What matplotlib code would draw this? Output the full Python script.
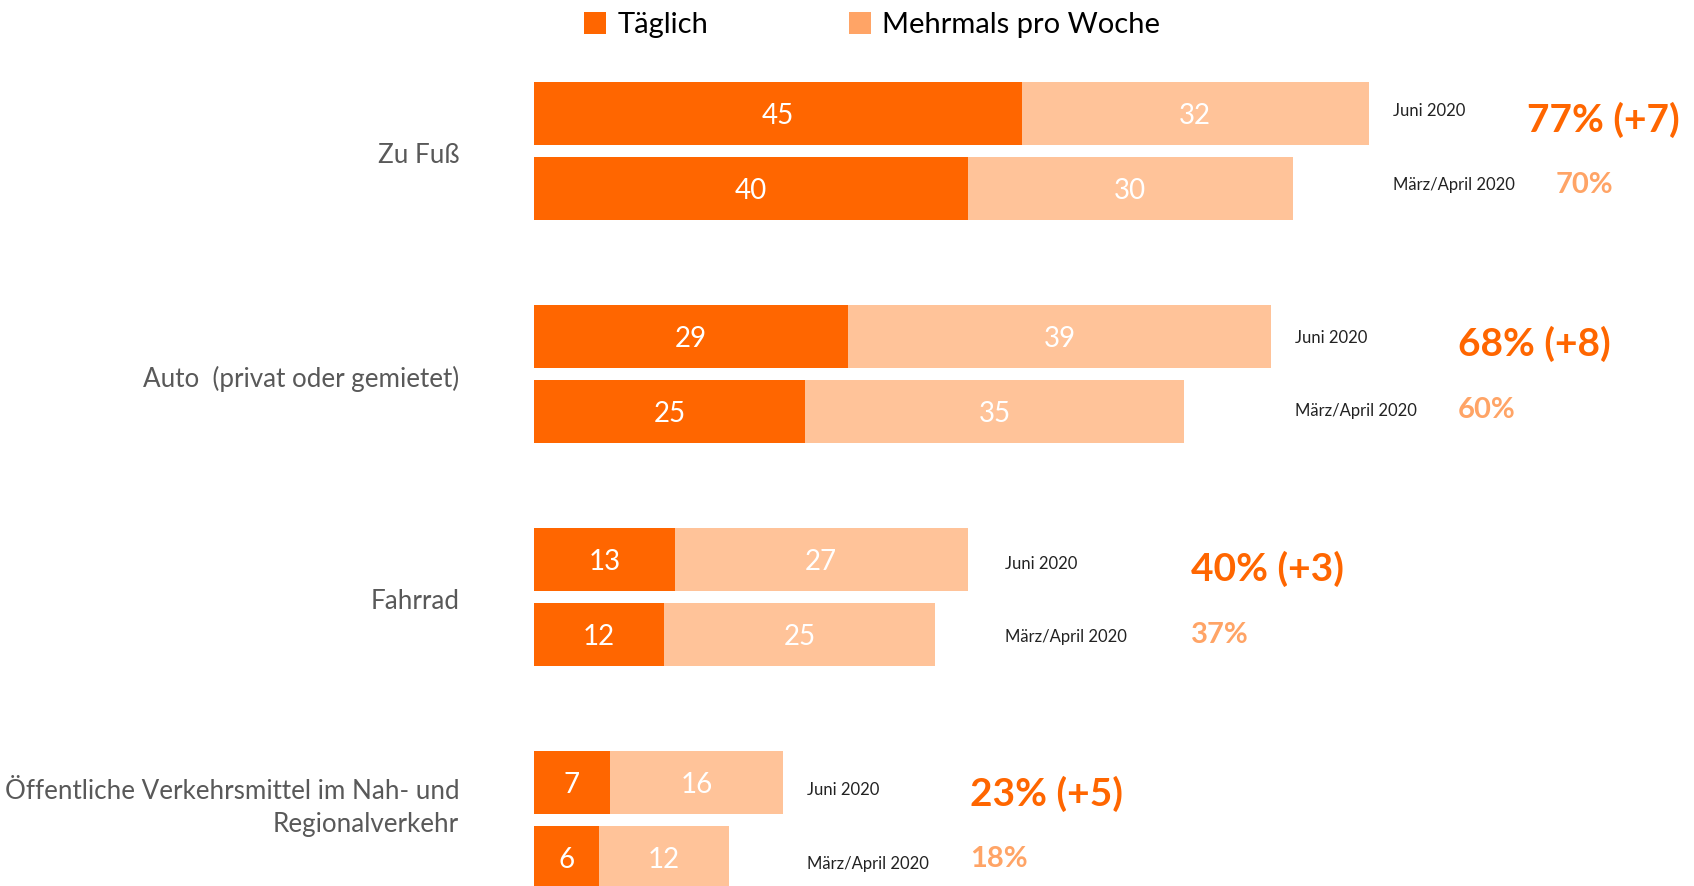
import matplotlib.pyplot as plt
from matplotlib.patches import Patch

plt.rcParams['font.family'] = ['Lato', 'DejaVu Sans']

categories = ['Zu Fuß', 'Auto  (privat oder gemietet)', 'Fahrrad',
              'Öffentliche Verkehrsmittel im Nah- und\nRegionalverkehr']
periods = ['Juni 2020', 'März/April 2020']
taeglich_juni = [45, 29, 13, 7]
mehrmals_juni = [32, 39, 27, 16]
taeglich_maerz = [40, 25, 12, 6]
mehrmals_maerz = [30, 35, 25, 12]
aenderung = ['+7', '+8', '+3', '+5']

DARK = '#FF6600'
LIGHT = '#FFC399'
LIGHT_TXT = '#FFA466'
GREY = '#595959'

fig = plt.figure(figsize=(16.94, 8.86), dpi=100)
ax = fig.add_axes([0, 0, 1, 1])
ax.set_xlim(-49.26, 107.0)
ax.set_ylim(10.3, -1.513)
ax.axis('off')

step = 2.973
h = 0.84
# extra spacing of the side labels per group
label_shift = [0, 0, 1.2, 0]
pct_shift = [0, 0, 2.2, 0]
for i, cat in enumerate(categories):
    y0 = i * step
    rows = [(y0, taeglich_juni[i], mehrmals_juni[i]),
            (y0 + 1, taeglich_maerz[i], mehrmals_maerz[i])]
    for y, t, m in rows:
        ax.barh(y, t, height=h, color=DARK)
        ax.barh(y, m, left=t, height=h, color=LIGHT)
        ax.text(t / 2, y + 0.04, str(t), color='white', fontsize=20, ha='center', va='center')
        ax.text(t + m / 2, y + 0.04, str(m), color='white', fontsize=20, ha='center', va='center')

    # category label, right aligned next to the bars
    ax.text(-6.9, y0 + 0.56 - (0.22 if '\n' in cat else 0), cat, color=GREY, fontsize=18.7,
            ha='right', va='center', linespacing=1.4)

    tot_j = taeglich_juni[i] + mehrmals_juni[i]
    tot_m = taeglich_maerz[i] + mehrmals_maerz[i]
    lx = tot_j + 2.2 + label_shift[i]
    drift = 0.045 * i
    ax.text(lx, y0 - 0.03 + drift, periods[0], fontsize=12, color='#222222', va='center')
    ax.text(lx, y0 + 0.95 + drift, periods[1], fontsize=12, color='#222222', va='center')
    px = lx + 15.0 + pct_shift[i]
    ax.text(min(px, 91.6), y0 + 0.08 + drift / 2, f'{tot_j}% ({aenderung[i]})', fontsize=28,
            fontweight='bold', color=DARK, va='center')
    ax.text(px, y0 + 0.96 + drift / 2, f'{tot_m}%', fontsize=21, fontweight='bold',
            color=LIGHT_TXT, va='center')

handles = [Patch(facecolor=DARK, label='Täglich'),
           Patch(facecolor=LIGHT_TXT, label='Mehrmals pro Woche')]
fig.legend(handles=handles, loc='upper center', bbox_to_anchor=(0.515, 1.016), ncol=2,
           frameon=False, fontsize=21, handlelength=0.75, handleheight=0.75,
           handletextpad=0.4, columnspacing=4.8)

fig.savefig('out.png', dpi=100)
